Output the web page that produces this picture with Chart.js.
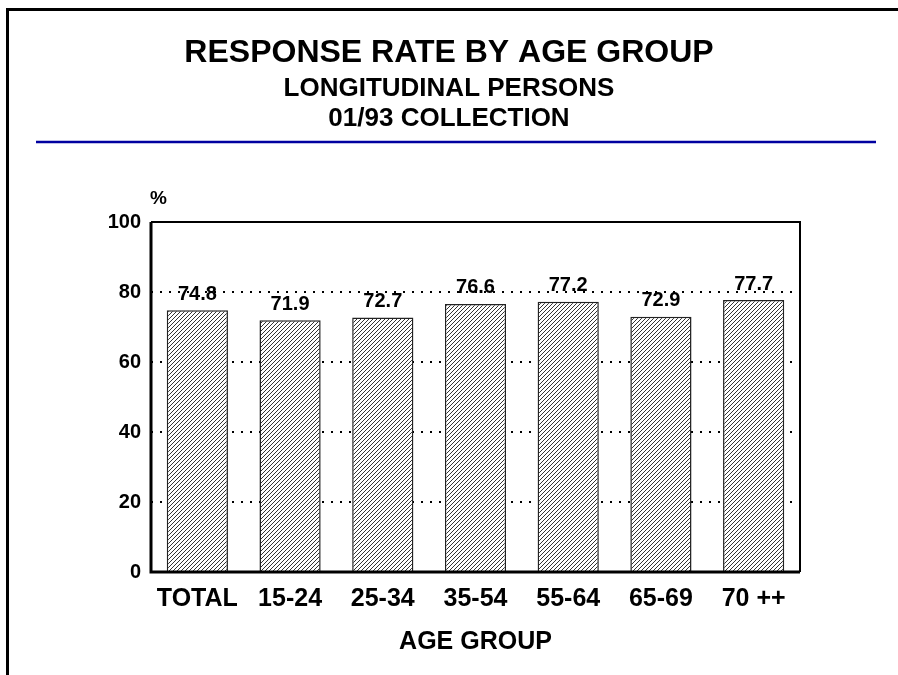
<!DOCTYPE html>
<html>
<head>
<meta charset="utf-8">
<script src="https://cdn.jsdelivr.net/npm/chart.js@4/dist/chart.umd.min.js"></script>
<style>
  html, body { margin: 0; padding: 0; background: #fff; }
  #wrap { width: 898px; height: 675px; position: relative; }
</style>
</head>
<body>
<div id="wrap"><canvas id="c" width="898" height="675"></canvas></div>
<script>
const categories = ['TOTAL', '15-24', '25-34', '35-54', '55-64', '65-69', '70 ++'];
const responseRate = [74.8, 71.9, 72.7, 76.6, 77.2, 72.9, 77.7];
const yTicks = [0, 20, 40, 60, 80, 100];
const titleText = 'RESPONSE RATE BY AGE GROUP';
const subtitleLines = ['LONGITUDINAL PERSONS', '01/93 COLLECTION'];
const xAxisTitle = 'AGE GROUP';
const yUnit = '%';

const FONT = "'Liberation Sans', Arial, Helvetica, sans-serif";
Chart.defaults.font.family = FONT;
Chart.defaults.color = '#000';

function hatch() {
  const s = 4;
  const c = document.createElement('canvas');
  c.width = s; c.height = s;
  const g = c.getContext('2d');
  g.fillStyle = '#fff';
  g.fillRect(0, 0, s, s);
  g.strokeStyle = '#333';
  g.lineWidth = 1;
  g.beginPath();
  g.moveTo(0, s); g.lineTo(s, 0);
  g.moveTo(-1, 1); g.lineTo(1, -1);
  g.moveTo(s - 1, s + 1); g.lineTo(s + 1, s - 1);
  g.stroke();
  return g.createPattern(c, 'repeat');
}

const decor = {
  id: 'decor',
  beforeDraw(chart) {
    const ctx = chart.ctx;
    ctx.save();
    ctx.fillStyle = '#fff';
    ctx.fillRect(0, 0, chart.width, chart.height);
    ctx.restore();
  },
  afterDatasetsDraw(chart) {
    const ctx = chart.ctx;
    const a = chart.chartArea;
    ctx.save();
    ctx.setLineDash([]);
    // plot box: left axis, bottom axis, top & right
    ctx.strokeStyle = '#000';
    ctx.lineWidth = 3;
    ctx.beginPath();
    ctx.moveTo(a.left, a.top);
    ctx.lineTo(a.left, a.bottom);
    ctx.lineTo(a.right, a.bottom);
    ctx.stroke();
    ctx.lineWidth = 2;
    ctx.beginPath();
    ctx.moveTo(a.left, a.top);
    ctx.lineTo(a.right, a.top);
    ctx.lineTo(a.right, a.bottom);
    ctx.stroke();
    // value labels
    const meta = chart.getDatasetMeta(0);
    ctx.fillStyle = '#000';
    ctx.font = 'bold 20px ' + FONT;
    ctx.textAlign = 'center';
    ctx.textBaseline = 'bottom';
    meta.data.forEach((bar, i) => {
      ctx.fillText(responseRate[i].toFixed(1), bar.x, bar.y - 6);
    });
    // unit label
    ctx.font = 'bold 19px ' + FONT;
    ctx.textAlign = 'left';
    ctx.textBaseline = 'middle';
    ctx.fillText(yUnit, a.left - 1, a.top - 23);
    ctx.restore();
  },
  afterDraw(chart) {
    const ctx = chart.ctx;
    ctx.save();
    ctx.setLineDash([]);
    // outer frame
    ctx.strokeStyle = '#000';
    ctx.lineWidth = 3;
    ctx.beginPath();
    ctx.moveTo(7.5, chart.height);
    ctx.lineTo(7.5, 9.5);
    ctx.lineTo(chart.width, 9.5);
    ctx.stroke();
    // blue rule
    ctx.strokeStyle = '#0000a0';
    ctx.lineWidth = 2.5;
    ctx.beginPath();
    ctx.moveTo(36, 142);
    ctx.lineTo(876, 142);
    ctx.stroke();
    ctx.restore();
  }
};

new Chart(document.getElementById('c'), {
  type: 'bar',
  data: {
    labels: categories,
    datasets: [{
      data: responseRate,
      backgroundColor: hatch(),
      borderColor: '#222',
      borderWidth: 1.5,
      barPercentage: 0.66,
      categoryPercentage: 1.0
    }]
  },
  options: {
    responsive: false,
    animation: false,
    devicePixelRatio: 1,
    layout: { padding: 0 },
    plugins: {
      legend: { display: false },
      tooltip: { enabled: false },
      title: {
        display: true,
        text: titleText,
        font: { size: 32, weight: 'bold', lineHeight: 1.2 },
        color: '#000',
        padding: { top: 34.4, bottom: 0 }
      },
      subtitle: {
        display: true,
        text: subtitleLines,
        font: { size: 26, weight: 'bold', lineHeight: 1.154 },
        color: '#000',
        padding: { top: 1.2, bottom: 88 }
      }
    },
    scales: {
      x: {
        grid: { display: false, drawTicks: false },
        border: { display: false },
        ticks: { font: { size: 25, weight: 'bold' }, color: '#000', padding: 12, maxRotation: 0, autoSkip: false },
        title: {
          display: true,
          text: xAxisTitle,
          font: { size: 25, weight: 'bold' },
          color: '#000',
          padding: { top: 0, bottom: 18 }
        },
        afterFit(scale) { scale.height = 103; }
      },
      y: {
        min: 0,
        max: 100,
        afterBuildTicks(scale) { scale.ticks = yTicks.map(v => ({ value: v })); },
        grid: {
          drawTicks: false,
          color: (c) => (c.tick && (c.tick.value === 0 || c.tick.value === 100)) ? 'rgba(0,0,0,0)' : '#000',
          lineWidth: 2
        },
        border: { display: false, dash: [2, 7] },
        ticks: { font: { size: 20, weight: 'bold' }, color: '#000', padding: 10 },
        afterFit(scale) { scale.width = 151; }
      },
      yRight: {
        position: 'right',
        display: true,
        grid: { display: false, drawTicks: false },
        border: { display: false },
        ticks: { display: false },
        afterFit(scale) { scale.width = 98; }
      }
    }
  },
  plugins: [decor]
});
</script>
</body>
</html>
